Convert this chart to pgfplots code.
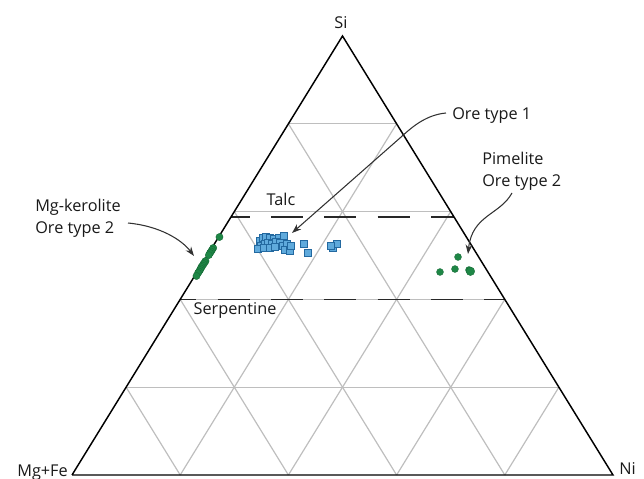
\documentclass[border=0pt]{standalone}
\usepackage{fontspec}
\setmainfont{Open Sans}
\usepackage{pgfplots}
\pgfplotsset{compat=1.18}
\usetikzlibrary{arrows.meta}
\definecolor{gridgray}{RGB}{190,190,190}
\definecolor{bluefill}{RGB}{95,170,220}
\definecolor{blueedge}{RGB}{35,105,160}
\definecolor{mkgreen}{RGB}{30,135,70}
\definecolor{dashc}{RGB}{40,40,40}
\definecolor{arrc}{RGB}{50,50,50}
\tikzset{
  lbl/.style={font=\fontsize{12.2}{14}\selectfont, inner sep=0pt, text=black!90},
  gl/.style={gridgray, line width=0.9pt},
  dl/.style={dashc, line width=1.0pt, dash pattern=on 24pt off 16pt},
}
\begin{document}
\begin{tikzpicture}
\begin{axis}[
  width=483pt, height=359.25pt, scale only axis,
  xmin=-0.1331, xmax=1.0573, ymin=-0.00911, ymax=1.0820,
  hide axis, clip=false,
]
% grid: horizontal
\addplot[gl, no marks] coordinates {(0.1,0.2) (0.9,0.2)};
\addplot[gl, no marks] coordinates {(0.2,0.4) (0.8,0.4)};
\addplot[gl, no marks] coordinates {(0.3,0.6) (0.7,0.6)};
\addplot[gl, no marks] coordinates {(0.4,0.8) (0.6,0.8)};
% parallel to left edge
\addplot[gl, no marks] coordinates {(0.2,0) (0.6,0.8)};
\addplot[gl, no marks] coordinates {(0.4,0) (0.7,0.6)};
\addplot[gl, no marks] coordinates {(0.6,0) (0.8,0.4)};
\addplot[gl, no marks] coordinates {(0.8,0) (0.9,0.2)};
% parallel to right edge
\addplot[gl, no marks] coordinates {(0.8,0) (0.4,0.8)};
\addplot[gl, no marks] coordinates {(0.6,0) (0.3,0.6)};
\addplot[gl, no marks] coordinates {(0.4,0) (0.2,0.4)};
\addplot[gl, no marks] coordinates {(0.2,0) (0.1,0.2)};
% Talc and Serpentine lines
\addplot[dl, no marks, dash phase=10pt] coordinates {(0.294,0.588) (0.706,0.588)};
\addplot[dl, no marks, dash phase=12pt] coordinates {(0.2,0.4) (0.8,0.4)};
% outline
\addplot[black, line width=1.1pt, no marks] coordinates {(0,0) (1,0) (0.5,1) (0,0)};
% Mg-kerolite, ore type 2
\addplot[only marks, mark=*, mark size=2.7pt, mark options={fill=mkgreen, draw=mkgreen!80!black, line width=0.3pt}] coordinates {
(0.2726,0.5421)
(0.2610,0.5171) (0.2590,0.5130) (0.2570,0.5090) (0.2551,0.5057) (0.2530,0.5010)
(0.2468,0.4875) (0.2450,0.4840) (0.2431,0.4806) (0.2412,0.4770) (0.2394,0.4738)
(0.2380,0.4705) (0.2366,0.4670) (0.2348,0.4635) (0.2329,0.4601) (0.2301,0.4533)
};
% Pimelite, ore type 2
\addplot[only marks, mark=*, mark size=2.6pt, mark options={fill=mkgreen, draw=mkgreen!80!black, line width=0.3pt}] coordinates {
(0.7135,0.4966) (0.6802,0.4624) (0.7079,0.4692) (0.7338,0.4670)
};
\addplot[only marks, mark=*, mark size=3.2pt, mark options={fill=mkgreen, draw=mkgreen!80!black, line width=0.3pt}] coordinates {
(0.7365,0.4640)
};
% Ore type 1
\addplot[only marks, mark=square*, mark size=2.6pt, mark options={fill=bluefill, draw=blueedge, line width=0.45pt}] coordinates {
(0.3475,0.5330) (0.3530,0.5399) (0.3586,0.5421) (0.3660,0.5399) (0.3734,0.5376)
(0.3826,0.5399) (0.3919,0.5444) (0.3494,0.5216) (0.3567,0.5262) (0.3623,0.5285)
(0.3697,0.5262) (0.3771,0.5308) (0.3845,0.5285) (0.3438,0.5148) (0.3549,0.5171)
(0.3660,0.5171) (0.3752,0.5194) (0.3900,0.5216) (0.3974,0.5262) (0.3937,0.5125)
(0.4030,0.5103) (0.4048,0.5216) (0.4288,0.5262) (0.4362,0.5057) (0.4824,0.5171)
(0.4898,0.5262) (0.4787,0.5216)
};
% arrows
\draw[arrc, line width=0.8pt, -{Stealth[length=7pt, width=5pt]}]
  (0.1035,0.5740) .. controls (0.1627,0.5672) and (0.2033,0.5353) .. (0.2255,0.4989);
\draw[arrc, line width=0.8pt, -{Stealth[length=7pt, width=5pt]}]
  (0.6913,0.8246) .. controls (0.6525,0.8200) and (0.6266,0.7904) .. (0.6063,0.7677) -- (0.4067,0.5513);
\draw[arrc, line width=0.8pt, -{Stealth[length=7pt, width=5pt]}]
  (0.8133,0.6424) .. controls (0.7911,0.5923) and (0.7394,0.5923) .. (0.7320,0.5034);
% labels
\node[lbl, anchor=base] at (0.4972,1.0182) {Si};
\node[lbl, anchor=base east] at (-0.0074,-0.0023) {Mg+Fe};
\node[lbl, anchor=base west] at (1.0111,0.0010) {Ni};
\node[lbl, anchor=base] at (0.3863,0.6128) {Talc};
\node[lbl, anchor=base] at (0.3013,0.3667) {Serpentine};
\node[lbl, anchor=base west] at (0.7024,0.8087) {Ore type 1};
\node[lbl, anchor=base west] at (0.7579,0.7084) {Pimelite};
\node[lbl, anchor=base west] at (0.7579,0.6583) {Ore type 2};
\node[lbl, anchor=base west] at (-0.0684,0.5991) {Mg-kerolite};
\node[lbl, anchor=base west] at (-0.0684,0.5490) {Ore type 2};
\end{axis}
\pgfresetboundingbox
\useasboundingbox (current axis.south west) rectangle (current axis.north east);
\end{tikzpicture}
\end{document}
